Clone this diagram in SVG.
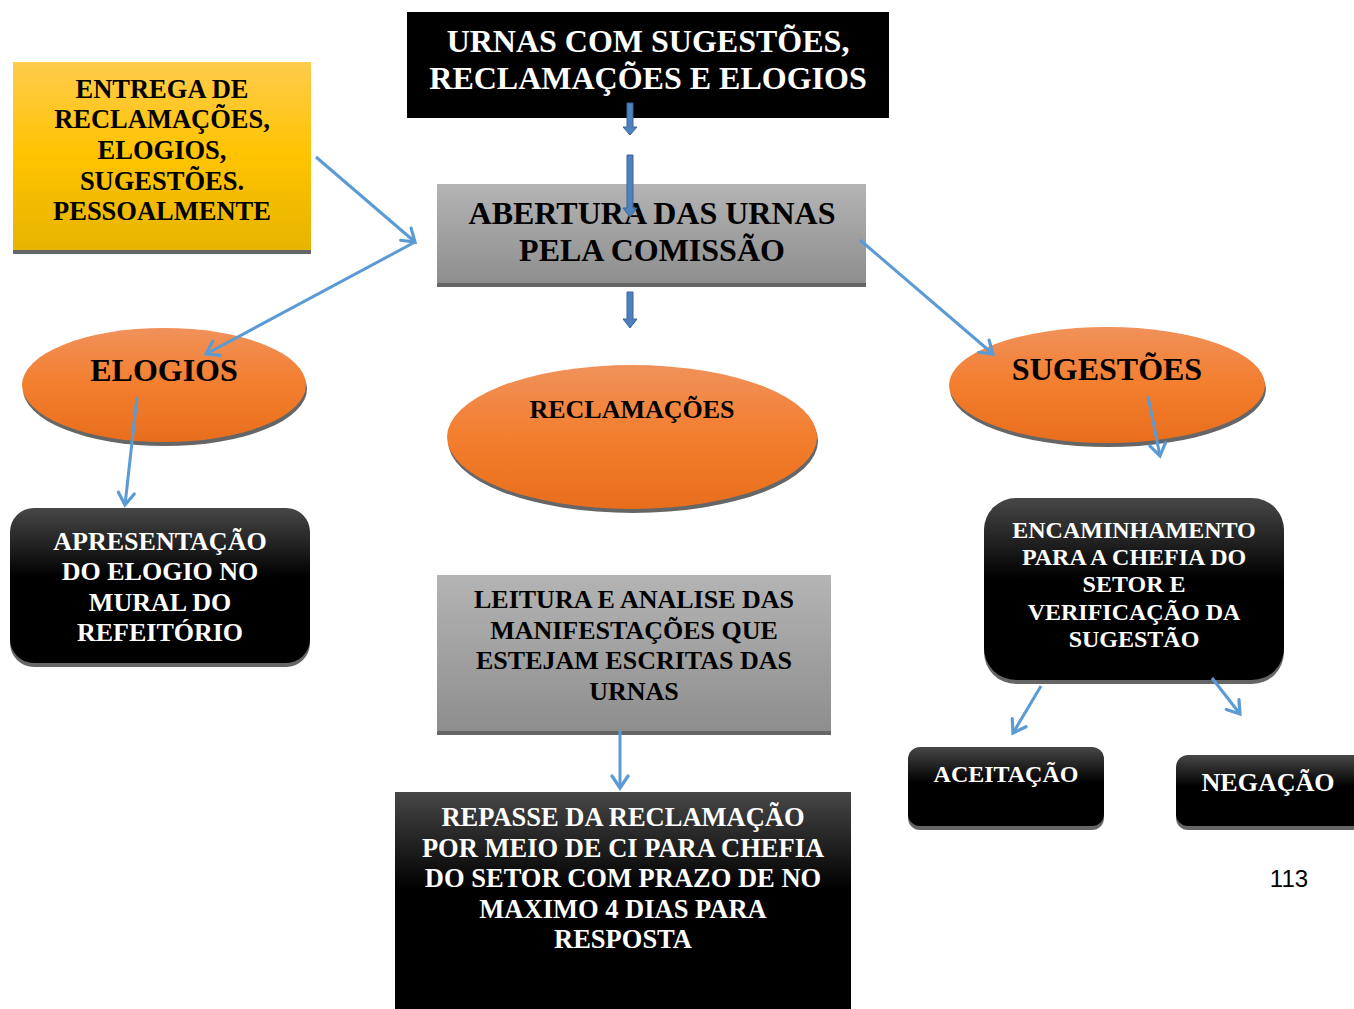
<svg xmlns="http://www.w3.org/2000/svg" width="1354" height="1009" viewBox="0 0 1354 1009">
<defs>
<linearGradient id="gGray" x1="0" y1="0" x2="0" y2="1"><stop offset="0" stop-color="#b4b4b4"/><stop offset="1" stop-color="#8e8e8e"/></linearGradient>
<linearGradient id="gYel" x1="0" y1="0" x2="0" y2="1"><stop offset="0" stop-color="#ffcc4d"/><stop offset="0.5" stop-color="#ffc300"/><stop offset="1" stop-color="#e6b400"/></linearGradient>
<linearGradient id="gOr" x1="0" y1="0" x2="0" y2="1"><stop offset="0" stop-color="#f0915a"/><stop offset="0.5" stop-color="#f37e2e"/><stop offset="1" stop-color="#e86e1c"/></linearGradient>
<linearGradient id="gBlk" x1="0" y1="0" x2="0" y2="1"><stop offset="0" stop-color="#474747"/><stop offset="0.45" stop-color="#000"/><stop offset="1" stop-color="#000"/></linearGradient>
<marker id="ah" markerUnits="userSpaceOnUse" markerWidth="24" markerHeight="24" refX="14" refY="10" orient="auto" viewBox="0 0 24 20">
<path d="M2,2 L14,10 L2,18" fill="none" stroke="#5b9bd5" stroke-width="3.2" stroke-linecap="round"/>
</marker>
</defs>
<style>
text{font-family:"Liberation Serif","Times New Roman",serif;font-weight:bold;text-anchor:middle}
.w{fill:#fff}
.k{fill:#000}
.sh{fill:#666}
.con{fill:none;stroke:#5b9bd5;stroke-width:3;marker-end:url(#ah)}
.blk{fill:#4f81bd;stroke:#3a6496;stroke-width:1}
</style>
<rect width="1354" height="1009" fill="#fff"/>

<g id="urnas">
<rect x="407" y="12" width="482" height="106" fill="#000"/>
<text class="w" x="648" y="52" font-size="32">URNAS COM SUGESTÕES,</text>
<text class="w" x="648" y="89" font-size="32">RECLAMAÇÕES E ELOGIOS</text>
</g>

<g id="entrega">
<rect x="13" y="66" width="298" height="188" class="sh"/>
<rect x="13" y="62" width="298" height="188" fill="url(#gYel)"/>
<text class="k" x="162" y="98" font-size="26.5">ENTREGA DE</text>
<text class="k" x="162" y="128" font-size="26.5">RECLAMAÇÕES,</text>
<text class="k" x="162" y="159" font-size="26.5">ELOGIOS,</text>
<text class="k" x="162" y="190" font-size="26.5">SUGESTÕES.</text>
<text class="k" x="162" y="220" font-size="26.5">PESSOALMENTE</text>
</g>

<g id="abertura">
<rect x="437" y="188" width="429" height="99" class="sh"/>
<rect x="437" y="184" width="429" height="99" fill="url(#gGray)"/>
<text class="k" x="652" y="224" font-size="32">ABERTURA DAS URNAS</text>
<text class="k" x="652" y="261" font-size="32">PELA COMISSÃO</text>
</g>

<g id="elogios">
<ellipse cx="165" cy="389" rx="142" ry="57" class="sh"/>
<ellipse cx="164" cy="385" rx="142" ry="57" fill="url(#gOr)"/>
<text class="k" x="164" y="381" font-size="32">ELOGIOS</text>
</g>

<g id="reclamacoes">
<ellipse cx="633" cy="441" rx="185" ry="72" class="sh"/>
<ellipse cx="632" cy="437" rx="185" ry="72" fill="url(#gOr)"/>
<text class="k" x="632" y="418" font-size="26">RECLAMAÇÕES</text>
</g>

<g id="sugestoes">
<ellipse cx="1108" cy="389" rx="158" ry="58" class="sh"/>
<ellipse cx="1107" cy="385" rx="158" ry="58" fill="url(#gOr)"/>
<text class="k" x="1107" y="380" font-size="32">SUGESTÕES</text>
</g>

<g id="apresentacao">
<rect x="10" y="512" width="300" height="155" rx="24" class="sh"/>
<rect x="10" y="508" width="300" height="155" rx="24" fill="url(#gBlk)"/>
<text class="w" x="160" y="550" font-size="26">APRESENTAÇÃO</text>
<text class="w" x="160" y="580" font-size="26">DO ELOGIO NO</text>
<text class="w" x="160" y="611" font-size="26">MURAL DO</text>
<text class="w" x="160" y="641" font-size="26">REFEITÓRIO</text>
</g>

<g id="leitura">
<rect x="437" y="579" width="394" height="156" class="sh"/>
<rect x="437" y="575" width="394" height="156" fill="url(#gGray)"/>
<text class="k" x="634" y="608" font-size="26">LEITURA E ANALISE DAS</text>
<text class="k" x="634" y="639" font-size="26">MANIFESTAÇÕES QUE</text>
<text class="k" x="634" y="669" font-size="26">ESTEJAM ESCRITAS DAS</text>
<text class="k" x="634" y="700" font-size="26">URNAS</text>
</g>

<g id="repasse">
<rect x="395" y="792" width="456" height="217" fill="url(#gBlk)"/>
<text class="w" x="623" y="826" font-size="26.5">REPASSE DA RECLAMAÇÃO</text>
<text class="w" x="623" y="857" font-size="26.5">POR MEIO DE CI PARA CHEFIA</text>
<text class="w" x="623" y="887" font-size="26.5">DO SETOR COM PRAZO DE NO</text>
<text class="w" x="623" y="918" font-size="26.5">MAXIMO 4 DIAS PARA</text>
<text class="w" x="623" y="948" font-size="26.5">RESPOSTA</text>
</g>

<g id="encaminhamento">
<rect x="984" y="502" width="300" height="182" rx="32" class="sh"/>
<rect x="984" y="498" width="300" height="182" rx="32" fill="url(#gBlk)"/>
<text class="w" x="1134" y="538" font-size="24">ENCAMINHAMENTO</text>
<text class="w" x="1134" y="565" font-size="24">PARA A CHEFIA DO</text>
<text class="w" x="1134" y="592" font-size="24">SETOR E</text>
<text class="w" x="1134" y="620" font-size="24">VERIFICAÇÃO DA</text>
<text class="w" x="1134" y="647" font-size="24">SUGESTÃO</text>
</g>

<g id="aceitacao">
<rect x="908" y="751" width="196" height="79" rx="12" class="sh"/>
<rect x="908" y="747" width="196" height="79" rx="12" fill="url(#gBlk)"/>
<text class="w" x="1006" y="782" font-size="24">ACEITAÇÃO</text>
</g>

<g id="negacao">
<rect x="1176" y="759" width="190" height="71" rx="12" class="sh"/>
<rect x="1176" y="755" width="190" height="71" rx="12" fill="url(#gBlk)"/>
<text class="w" x="1268" y="791" font-size="26">NEGAÇÃO</text>
</g>

<g id="connectors">
<polygon class="blk" points="627,103 633,103 633,127 637,127 630,135 623,127 627,127"/>
<polygon class="blk" points="627,155 633,155 633,208 637,208 630,217 623,208 627,208"/>
<polygon class="blk" points="627,292 633,292 633,319 637,319 630,328 623,319 627,319"/>
<line class="con" x1="316" y1="157" x2="415" y2="242"/>
<line class="con" x1="415" y1="242" x2="206" y2="354"/>
<line class="con" x1="137" y1="397" x2="125" y2="505"/>
<line class="con" x1="860" y1="240" x2="993" y2="354"/>
<line class="con" x1="1148" y1="396" x2="1160" y2="456"/>
<line class="con" x1="1041" y1="686" x2="1013" y2="733"/>
<line class="con" x1="1212" y1="678" x2="1240" y2="714"/>
<line class="con" x1="620" y1="731" x2="620" y2="788"/>
</g>

<text x="1289" y="887" font-size="24" style="font-family:'Liberation Sans','Open Sans',sans-serif;font-weight:normal" fill="#000">113</text>
</svg>
